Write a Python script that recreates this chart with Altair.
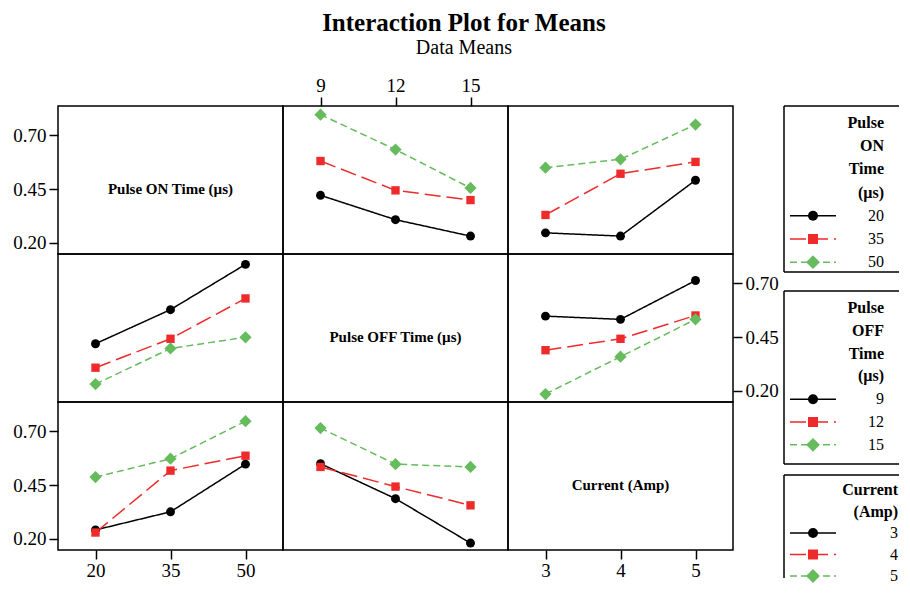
import altair as alt
import pandas as pd

FONT = "Liberation Serif"
COLORS = ["#000000", "#ee2a2a", "#66bb5c"]
DASHES = [[1, 0], [16, 6], [7, 4]]
SHAPES = ["circle", "square", "diamond"]
SIZES = [80, 70, 150]
LEG_SIZES = [100, 100, 190]

on_levels = ["20", "35", "50"]
off_levels = ["9", "12", "15"]
cur_levels = ["3", "4", "5"]

# response means; each inner list = one trace level, values over the x-factor levels
on_vs_off = [[0.421, 0.308, 0.232], [0.580, 0.444, 0.399], [0.795, 0.633, 0.455]]
on_vs_cur = [[0.247, 0.232, 0.491], [0.330, 0.521, 0.576], [0.549, 0.588, 0.749]]
off_vs_on = [[0.419, 0.577, 0.787], [0.308, 0.442, 0.629], [0.232, 0.397, 0.449]]
off_vs_cur = [[0.547, 0.532, 0.712], [0.389, 0.442, 0.550], [0.186, 0.359, 0.532]]
cur_vs_on = [[0.242, 0.326, 0.547], [0.230, 0.517, 0.586], [0.487, 0.572, 0.746]]
cur_vs_off = [[0.549, 0.387, 0.181], [0.534, 0.443, 0.356], [0.714, 0.547, 0.534]]

y_ticks = [0.20, 0.45, 0.70]
y_domain = [0.149, 0.835]

factor_names = ["Pulse ON Time (µs)", "Pulse OFF Time (µs)", "Current (Amp)"]
legend_titles = [["Pulse", "ON", "Time", "(µs)"], ["Pulse", "OFF", "Time", "(µs)"], ["Current", "(Amp)"]]
legend_labels = [on_levels, off_levels, cur_levels]

W, H = 225, 148
LABEL_SIZE = 19


def yaxis(orient):
    return alt.Axis(orient=orient, values=y_ticks, format=".2f", tickSize=9, domain=False,
                    grid=False, labelFont=FONT, labelFontSize=LABEL_SIZE, labelColor="black",
                    tickColor="black", tickWidth=1.5, labelPadding=3, title=None)


def xaxis(orient):
    return alt.Axis(orient=orient, labelAngle=0, tickSize=9, domain=False, grid=False,
                    labelFont=FONT, labelFontSize=LABEL_SIZE, labelColor="black",
                    tickColor="black", tickWidth=1.5, labelPadding=2, title=None)


def yscale():
    return alt.Scale(domain=y_domain, nice=False, zero=False)


def xscale(levels):
    return alt.Scale(type="point", padding=0.5, domain=levels)


def sc(rng):
    return alt.Scale(domain=[0, 1, 2], range=rng)


def point_layers(base, sizes):
    return [base.transform_filter(alt.datum.s == i).mark_point(
        filled=True, opacity=1, shape=SHAPES[i], size=sizes[i], color=COLORS[i])
        for i in range(3)]


def panel(xlev, series, xax=None, yax=None):
    rows = [{"x": xl, "s": si, "v": v}
            for si, vals in enumerate(series) for xl, v in zip(xlev, vals)]
    base = alt.Chart(pd.DataFrame(rows)).encode(
        x=alt.X("x:N", sort=xlev, scale=xscale(xlev), axis=xax),
        y=alt.Y("v:Q", scale=yscale(), axis=yax),
    )
    line = base.mark_line(strokeWidth=1.5).encode(
        color=alt.Color("s:N", scale=sc(COLORS), legend=None),
        strokeDash=alt.StrokeDash("s:N", scale=sc(DASHES), legend=None))
    return alt.layer(line, *point_layers(base, SIZES)).properties(width=W, height=H)


def diag(i, xlev, xax=None, yax=None):
    return alt.Chart(pd.DataFrame({"t": [factor_names[i]]})).mark_text(
        font=FONT, fontSize=15, fontWeight="bold", color="black").encode(
        x=alt.XDatum(xlev[1], scale=xscale(xlev), axis=xax, type="nominal"),
        y=alt.YDatum(0.45, scale=yscale(), axis=yax),
        text="t:N",
    ).properties(width=W, height=H)


def legend_chart(k, y0, step, top, bottom, xr, close):
    tl = legend_titles[k]
    n = len(tl)
    tdf = pd.DataFrame({"r": list(range(n)), "t": tl})
    idf = pd.DataFrame({"r": [n + i for i in range(3)], "s": [0, 1, 2], "t": legend_labels[k]})
    yenc = alt.Y("r:Q", scale=alt.Scale(domain=[0, n + 2], range=[y0, y0 + step * (n + 2)],
                                         nice=False, zero=False), axis=None)
    titles = alt.Chart(tdf).mark_text(font=FONT, fontSize=16, fontWeight="bold", align="right",
                                      baseline="middle", color="black").encode(
        x=alt.value(xr), y=yenc, text="t:N")
    rules = alt.Chart(idf).mark_rule(strokeWidth=1.5).encode(
        x=alt.value(57), x2=alt.value(103), y=yenc,
        color=alt.Color("s:N", scale=sc(COLORS), legend=None),
        strokeDash=alt.StrokeDash("s:N", scale=sc(DASHES), legend=None))
    pbase = alt.Chart(idf).encode(x=alt.value(80), y=yenc)
    labels = alt.Chart(idf).mark_text(font=FONT, fontSize=16, align="right", baseline="middle",
                                      color="black").encode(x=alt.value(xr), y=yenc, text="t:N")
    one = pd.DataFrame({"k": [0]})
    edges = [
        alt.Chart(one).mark_rule(color="black", strokeWidth=1.5).encode(
            x=alt.value(51), y=alt.value(top), y2=alt.value(bottom)),
        alt.Chart(one).mark_rule(color="black", strokeWidth=1.5).encode(
            x=alt.value(51), x2=alt.value(166), y=alt.value(top)),
    ]
    if close:
        edges.append(alt.Chart(one).mark_rule(color="black", strokeWidth=1.5).encode(
            x=alt.value(51), x2=alt.value(166), y=alt.value(bottom)))
    return alt.layer(*edges, rules, *point_layers(pbase, LEG_SIZES), titles, labels).properties(
        width=100, height=H, view=alt.ViewBackground(stroke=None))


cells = [
    diag(0, on_levels, yax=yaxis("left")),
    panel(off_levels, on_vs_off, xax=xaxis("top")),
    panel(cur_levels, on_vs_cur),
    legend_chart(0, 17, 23.2, 0, 166, 151, True),
    panel(on_levels, off_vs_on),
    diag(1, off_levels),
    panel(cur_levels, off_vs_cur, yax=yaxis("right")),
    legend_chart(1, 54, 22.8, 37, 210, 151, True),
    panel(on_levels, cur_vs_on, xax=xaxis("bottom"), yax=yaxis("left")),
    panel(off_levels, cur_vs_off),
    diag(2, cur_levels, xax=xaxis("bottom")),
    legend_chart(2, 88, 21.5, 73, 176, 165, False),
]

chart = alt.concat(*cells, columns=4, spacing=0, bounds="flush").resolve_scale(
    color="independent", strokeDash="independent"
).properties(
    title=alt.TitleParams("Interaction Plot for Means", subtitle="Data Means", font=FONT,
                          fontSize=25, fontWeight="bold", color="black", subtitleFont=FONT,
                          subtitleFontSize=20, subtitleColor="black", anchor="middle",
                          offset=17, subtitlePadding=2, dx=8),
    padding={"left": 4, "top": 3, "right": 0, "bottom": 0},
).configure_view(stroke="black", strokeWidth=1.5)

chart.save("out.html", embed_options={"renderer": "svg", "actions": False})
